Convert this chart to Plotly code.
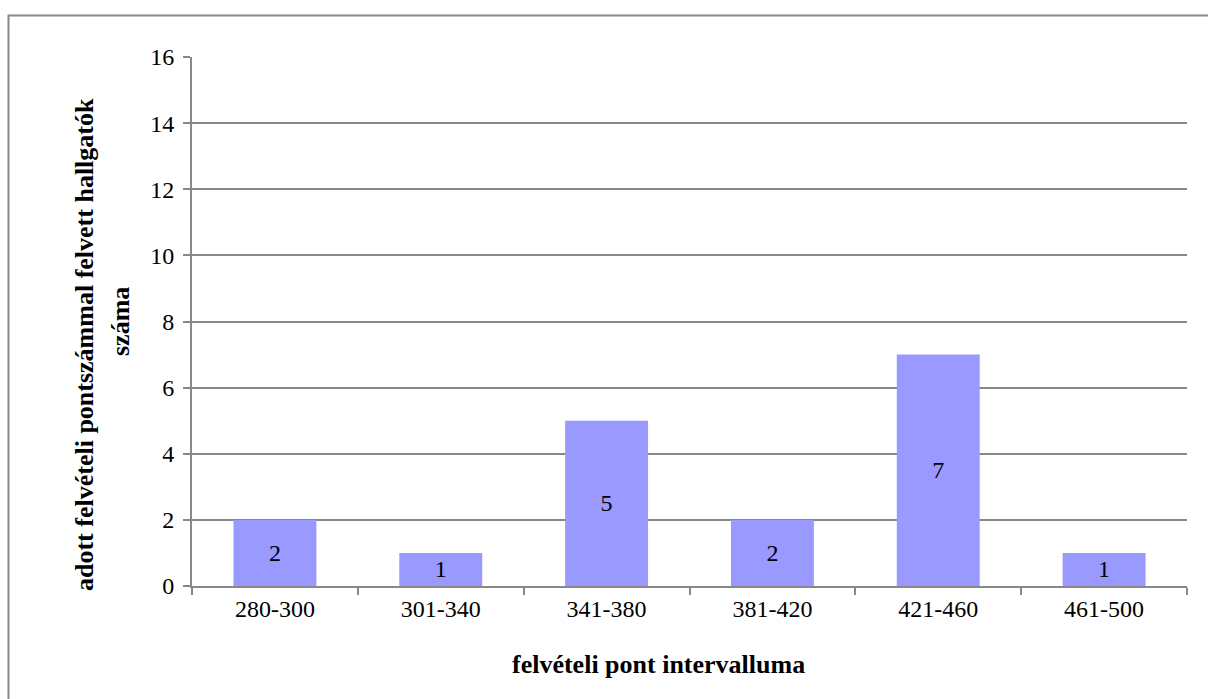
import plotly.graph_objects as go

# Number of admitted students per admission-score interval
intervals = ["280-300", "301-340", "341-380", "381-420", "421-460", "461-500"]
students = [2, 1, 5, 2, 7, 1]

y_ticks = [0, 2, 4, 6, 8, 10, 12, 14, 16]

x_title = "felvételi pont intervalluma"
y_title_line1 = "adott felvételi pontszámmal felvett hallgatók"
y_title_line2 = "száma"

FONT = "Liberation Serif, Times New Roman, serif"
GRID = "#888888"
SIZE = 24
TITLE_SIZE = 26

# Plot-area geometry in pixels (used to place titles/border in paper units)
W, H = 1208, 699
L, R, T, B = 192, 21, 57, 113
pw, ph = W - L - R, H - T - B


def px_x(x):
    return (x - L) / pw


def px_y(y):
    return (H - B - y) / ph


fig = go.Figure(
    go.Bar(
        x=intervals,
        y=students,
        marker=dict(color="#9999FF", line=dict(width=0)),
        text=[str(v) for v in students],
        textposition="inside",
        insidetextanchor="middle",
        constraintext="none",
        textfont=dict(family=FONT, size=SIZE, color="black"),
        hoverinfo="skip",
    )
)

fig.update_layout(
    width=W,
    height=H,
    margin=dict(l=L, r=R, t=T, b=B, autoexpand=False),
    paper_bgcolor="white",
    plot_bgcolor="white",
    bargap=0.5,
    showlegend=False,
    font=dict(family=FONT, size=SIZE, color="black"),
    uniformtext=dict(minsize=SIZE, mode="show"),
    xaxis=dict(
        showline=True,
        linecolor=GRID,
        linewidth=2,
        ticks="outside",
        tickson="boundaries",
        ticklen=7,
        tickcolor=GRID,
        tickwidth=2,
        showgrid=False,
        tickfont=dict(family=FONT, size=SIZE, color="black"),
    ),
    yaxis=dict(
        range=[0, 16],
        tickvals=y_ticks,
        showline=True,
        linecolor=GRID,
        linewidth=2,
        ticks="outside",
        ticklen=7,
        tickcolor=GRID,
        tickwidth=2,
        showgrid=True,
        gridcolor=GRID,
        gridwidth=1.5,
        zeroline=False,
        tickfont=dict(family=FONT, size=SIZE, color="black"),
        ticklabelstandoff=4,
    ),
    shapes=[
        # Chart-area border (runs off the right and bottom edges)
        dict(
            type="rect",
            xref="paper",
            yref="paper",
            x0=px_x(8.5),
            x1=px_x(1230),
            y0=px_y(720),
            y1=px_y(15.5),
            line=dict(color="#888888", width=2),
            fillcolor="rgba(0,0,0,0)",
            layer="below",
        )
    ],
    annotations=[
        dict(
            text="<b>" + x_title + "</b>",
            xref="paper",
            yref="paper",
            x=px_x(658),
            y=px_y(664),
            showarrow=False,
            xanchor="center",
            yanchor="middle",
            font=dict(family=FONT, size=TITLE_SIZE, color="black"),
        ),
        dict(
            text="<b>" + y_title_line1 + "</b>",
            xref="paper",
            yref="paper",
            x=px_x(84),
            y=px_y(345),
            textangle=-90,
            showarrow=False,
            xanchor="center",
            yanchor="middle",
            font=dict(family=FONT, size=TITLE_SIZE, color="black"),
        ),
        dict(
            text="<b>" + y_title_line2 + "</b>",
            xref="paper",
            yref="paper",
            x=px_x(120),
            y=px_y(322),
            textangle=-90,
            showarrow=False,
            xanchor="center",
            yanchor="middle",
            font=dict(family=FONT, size=TITLE_SIZE, color="black"),
        ),
    ],
)

fig.write_html("out.html")
